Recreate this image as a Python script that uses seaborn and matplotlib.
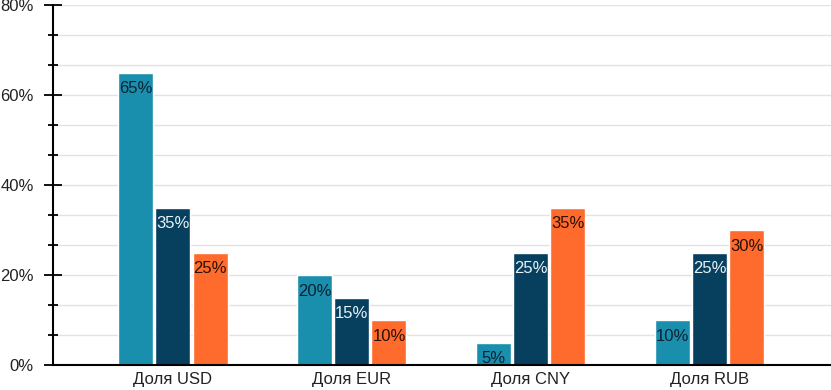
import numpy as np
import pandas as pd
import matplotlib.pyplot as plt
import seaborn as sns

# данные
categories = ["Доля USD", "Доля EUR", "Доля CNY", "Доля RUB"]
series_names = ["Серия 1", "Серия 2", "Серия 3"]
series_1 = [65, 20, 5, 10]
series_2 = [35, 15, 25, 25]
series_3 = [25, 10, 35, 30]

bar_colors = ["#1a8fad", "#073f5f", "#ff6b2c"]
label_colors = ["#0b2233", "#e8f2f7", "#2a1005"]

rows = []
for name, vals in zip(series_names, [series_1, series_2, series_3]):
    for cat, v in zip(categories, vals):
        rows.append({"cat": cat, "series": name, "val": v})
df = pd.DataFrame(rows)

sns.set_style("white")
plt.rcParams["font.family"] = ["Liberation Sans", "DejaVu Sans"]

fig = plt.figure(figsize=(8.31, 3.9), dpi=100)
ax = fig.add_axes([53 / 831, 25 / 390, 1 - 53 / 831, 360 / 390])

sns.barplot(data=df, x="cat", y="val", hue="series", palette=bar_colors,
            width=0.625, gap=0.06, saturation=1, legend=False, ax=ax, zorder=3)

# подписи внутри столбцов
for cont, col in zip(ax.containers, label_colors):
    ax.bar_label(cont, labels=[f"{v:.0f}%" for v in cont.datavalues],
                 padding=-17, color=col, fontsize=12, zorder=4)

ax.set_ylim(0, 80)
ax.set_xlim(-0.67, 3.68)
ax.set_yticks([0, 20, 40, 60, 80])
ax.set_yticklabels([f"{t}%" for t in [0, 20, 40, 60, 80]])
# три деления на каждые 20%
minor = [m for m in np.arange(0, 80.01, 20 / 3) if round(m, 3) % 20 != 0]
ax.set_yticks(minor, minor=True)
ax.yaxis.grid(True, which="both", color="#e3e3e3", linewidth=1, zorder=0)
ax.tick_params(axis="y", which="both", left=True)
ax.tick_params(axis="y", which="major", direction="inout", length=13.5, width=1.3,
               color="black", labelsize=12, labelcolor="#222222", pad=7)
ax.tick_params(axis="y", which="minor", direction="inout", length=7, width=1.3,
               color="black")
ax.tick_params(axis="x", length=0, labelsize=12, labelcolor="#222222", pad=5)
ax.set_xlabel("")
ax.set_ylabel("")

for s in ["top", "right"]:
    ax.spines[s].set_visible(False)
for s in ["left", "bottom"]:
    ax.spines[s].set_color("black")
    ax.spines[s].set_linewidth(1.5)
    ax.spines[s].set_zorder(5)

fig.savefig("out.png", dpi=100)
